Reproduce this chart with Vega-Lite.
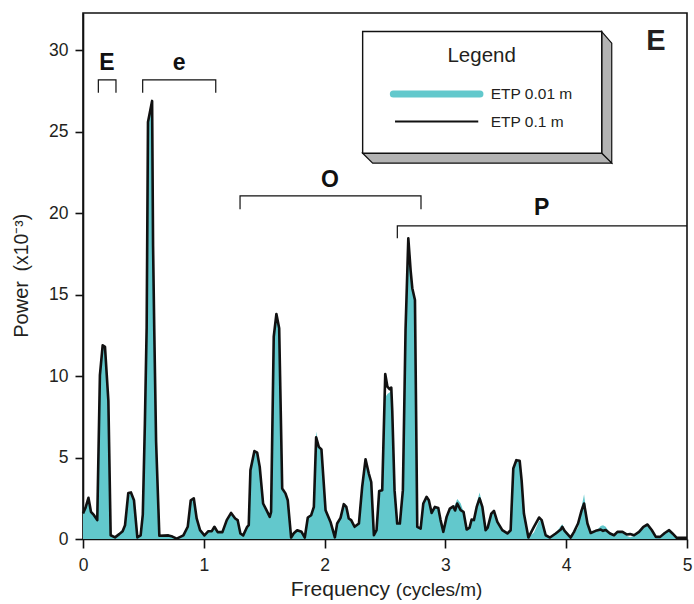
{
  "$schema": "https://vega.github.io/schema/vega-lite/v6.json",
  "autosize": "none",
  "width": 604,
  "height": 526,
  "padding": {"left": 83, "top": 13, "right": 7, "bottom": 65},
  "background": "white",
  "config": {
    "font": "Liberation Sans",
    "view": {"stroke": "#111111", "strokeWidth": 1.6},
    "axis": {
      "domainColor": "#111111", "domainWidth": 1.6,
      "tickColor": "#111111", "tickWidth": 1.6, "tickSize": 8,
      "labelFont": "Liberation Sans", "labelFontSize": 17.5, "labelColor": "#231f20",
      "labelPadding": 7, "grid": false, "title": null, "labelFlush": false, "format": "d"
    }
  },
  "datasets": {
    "spec": [
      {"f":0.0,"p1":1.57,"p01":1.57},{"f":0.02,"p1":1.9,"p01":1.9},{"f":0.045,"p1":2.53,"p01":2.53},{"f":0.066,"p1":1.67,"p01":1.67},
      {"f":0.091,"p1":1.46,"p01":1.46},{"f":0.118,"p1":1.16,"p01":1.16},{"f":0.14,"p1":10.07,"p01":10.07},{"f":0.163,"p1":11.9,"p01":11.9},
      {"f":0.182,"p1":11.8,"p01":11.8},{"f":0.21,"p1":8.5,"p01":8.5},{"f":0.229,"p1":0.23,"p01":0.23},{"f":0.265,"p1":0.1,"p01":0.1},
      {"f":0.3,"p1":0.3,"p01":0.3},{"f":0.328,"p1":0.48,"p01":0.48},{"f":0.348,"p1":0.85,"p01":0.85},{"f":0.375,"p1":2.83,"p01":2.83},
      {"f":0.397,"p1":2.86,"p01":2.86},{"f":0.422,"p1":2.38,"p01":2.38},{"f":0.45,"p1":0.1,"p01":0.1},{"f":0.477,"p1":0.22,"p01":0.22},
      {"f":0.495,"p1":1.5,"p01":1.5},{"f":0.512,"p1":7.0,"p01":7.0},{"f":0.527,"p1":13.0,"p01":13.0},{"f":0.538,"p1":25.6,"p01":25.6},
      {"f":0.572,"p1":26.9,"p01":26.9},{"f":0.58,"p1":18.0,"p01":18.0},{"f":0.59,"p1":12.8,"p01":12.8},{"f":0.605,"p1":6.0,"p01":6.0},
      {"f":0.632,"p1":0.2,"p01":0.2},{"f":0.707,"p1":0.22,"p01":0.22},{"f":0.74,"p1":0.15,"p01":0.15},{"f":0.776,"p1":0.02,"p01":0.02},
      {"f":0.831,"p1":0.22,"p01":0.22},{"f":0.867,"p1":0.75,"p01":0.75},{"f":0.892,"p1":2.38,"p01":2.38},{"f":0.917,"p1":2.5,"p01":2.5},
      {"f":0.941,"p1":1.26,"p01":1.26},{"f":0.969,"p1":0.54,"p01":0.54},{"f":1.005,"p1":0.22,"p01":0.22},{"f":1.038,"p1":0.48,"p01":0.48},
      {"f":1.066,"p1":0.48,"p01":0.48},{"f":1.088,"p1":0.75,"p01":0.75},{"f":1.115,"p1":0.42,"p01":0.42},{"f":1.154,"p1":0.42,"p01":0.42},
      {"f":1.19,"p1":1.16,"p01":1.16},{"f":1.226,"p1":1.6,"p01":1.6},{"f":1.26,"p1":1.26,"p01":1.26},{"f":1.28,"p1":1.16,"p01":1.16},
      {"f":1.303,"p1":0.34,"p01":0.34},{"f":1.326,"p1":0.22,"p01":0.22},{"f":1.359,"p1":0.75,"p01":0.75},{"f":1.372,"p1":0.85,"p01":0.85},
      {"f":1.386,"p1":4.23,"p01":4.23},{"f":1.419,"p1":5.4,"p01":5.4},{"f":1.442,"p1":5.3,"p01":5.3},{"f":1.463,"p1":4.43,"p01":4.43},
      {"f":1.491,"p1":2.18,"p01":2.18},{"f":1.519,"p1":1.77,"p01":1.77},{"f":1.546,"p1":1.36,"p01":1.36},{"f":1.557,"p1":1.66,"p01":1.66},
      {"f":1.579,"p1":12.42,"p01":12.42},{"f":1.601,"p1":13.82,"p01":13.82},{"f":1.624,"p1":12.94,"p01":12.94},{"f":1.649,"p1":3.1,"p01":3.1},
      {"f":1.676,"p1":2.8,"p01":2.8},{"f":1.695,"p1":2.38,"p01":2.38},{"f":1.723,"p1":0.09,"p01":0.09},{"f":1.745,"p1":0.35,"p01":0.35},
      {"f":1.773,"p1":0.54,"p01":0.54},{"f":1.809,"p1":0.44,"p01":0.44},{"f":1.836,"p1":0.09,"p01":0.09},{"f":1.861,"p1":1.32,"p01":1.32},
      {"f":1.889,"p1":1.46,"p01":1.46},{"f":1.911,"p1":1.97,"p01":1.97},{"f":1.93,"p1":6.24,"p01":6.6},{"f":1.952,"p1":5.66,"p01":5.66},
      {"f":1.974,"p1":5.5,"p01":5.5},{"f":2.008,"p1":1.77,"p01":1.77},{"f":2.049,"p1":1.05,"p01":1.05},{"f":2.085,"p1":0.1,"p01":0.1},
      {"f":2.104,"p1":0.95,"p01":0.95},{"f":2.132,"p1":1.3,"p01":1.3},{"f":2.159,"p1":2.14,"p01":2.14},{"f":2.18,"p1":1.97,"p01":1.97},
      {"f":2.2,"p1":1.26,"p01":1.26},{"f":2.22,"p1":1.16,"p01":1.16},{"f":2.248,"p1":0.75,"p01":0.75},{"f":2.284,"p1":0.95,"p01":0.95},
      {"f":2.311,"p1":3.2,"p01":3.2},{"f":2.339,"p1":4.9,"p01":4.9},{"f":2.366,"p1":4.02,"p01":4.02},{"f":2.386,"p1":3.5,"p01":3.5},
      {"f":2.408,"p1":0.23,"p01":0.23},{"f":2.43,"p1":0.54,"p01":0.54},{"f":2.452,"p1":2.95,"p01":2.95},{"f":2.477,"p1":3.0,"p01":3.0},
      {"f":2.502,"p1":10.13,"p01":8.7},{"f":2.52,"p1":9.35,"p01":8.9},{"f":2.538,"p1":9.2,"p01":9.0},{"f":2.552,"p1":9.3,"p01":9.1},
      {"f":2.56,"p1":7.9,"p01":7.9},{"f":2.579,"p1":3.0,"p01":3.0},{"f":2.601,"p1":0.95,"p01":0.95},{"f":2.623,"p1":0.95,"p01":0.95},
      {"f":2.648,"p1":3.0,"p01":3.0},{"f":2.67,"p1":12.83,"p01":12.83},{"f":2.693,"p1":18.47,"p01":18.3},{"f":2.712,"p1":16.5,"p01":16.8},
      {"f":2.726,"p1":15.4,"p01":15.4},{"f":2.748,"p1":14.68,"p01":14.68},{"f":2.767,"p1":0.75,"p01":0.75},{"f":2.795,"p1":0.64,"p01":0.64},
      {"f":2.817,"p1":2.18,"p01":2.18},{"f":2.844,"p1":2.59,"p01":2.59},{"f":2.863,"p1":2.38,"p01":2.38},{"f":2.886,"p1":1.6,"p01":1.6},
      {"f":2.913,"p1":1.97,"p01":1.97},{"f":2.941,"p1":1.9,"p01":1.9},{"f":2.96,"p1":1.16,"p01":1.16},{"f":2.983,"p1":0.44,"p01":0.44},
      {"f":3.01,"p1":1.36,"p01":1.36},{"f":3.037,"p1":1.87,"p01":1.87},{"f":3.065,"p1":2.0,"p01":2.0},{"f":3.08,"p1":1.75,"p01":2.1},
      {"f":3.098,"p1":2.18,"p01":2.45},{"f":3.126,"p1":1.77,"p01":2.2},{"f":3.15,"p1":1.67,"p01":1.67},{"f":3.176,"p1":0.58,"p01":0.58},
      {"f":3.2,"p1":0.7,"p01":0.7},{"f":3.217,"p1":1.2,"p01":1.2},{"f":3.236,"p1":1.16,"p01":1.16},{"f":3.259,"p1":1.97,"p01":2.2},
      {"f":3.283,"p1":2.49,"p01":2.85},{"f":3.306,"p1":1.97,"p01":2.1},{"f":3.333,"p1":0.54,"p01":0.54},{"f":3.35,"p1":0.7,"p01":0.7},
      {"f":3.38,"p1":1.56,"p01":1.56},{"f":3.402,"p1":1.73,"p01":1.73},{"f":3.43,"p1":1.05,"p01":1.05},{"f":3.471,"p1":0.54,"p01":0.54},
      {"f":3.513,"p1":0.34,"p01":0.34},{"f":3.54,"p1":0.54,"p01":0.54},{"f":3.562,"p1":4.33,"p01":4.2},{"f":3.587,"p1":4.84,"p01":4.84},
      {"f":3.615,"p1":4.8,"p01":4.8},{"f":3.631,"p1":3.6,"p01":3.6},{"f":3.65,"p1":1.56,"p01":1.56},{"f":3.687,"p1":0.09,"p01":0.09},
      {"f":3.733,"p1":0.75,"p01":0.4},{"f":3.775,"p1":1.32,"p01":1.1},{"f":3.797,"p1":1.16,"p01":1.16},{"f":3.83,"p1":0.23,"p01":0.23},
      {"f":3.866,"p1":0.09,"p01":0.09},{"f":3.913,"p1":0.34,"p01":0.34},{"f":3.955,"p1":0.58,"p01":0.8},{"f":3.968,"p1":0.75,"p01":0.9},
      {"f":3.987,"p1":0.5,"p01":0.6},{"f":4.037,"p1":0.09,"p01":0.09},{"f":4.065,"p1":0.44,"p01":0.3},{"f":4.098,"p1":0.95,"p01":0.7},
      {"f":4.128,"p1":1.77,"p01":2.0},{"f":4.148,"p1":2.18,"p01":2.75},{"f":4.176,"p1":0.95,"p01":1.1},{"f":4.203,"p1":0.37,"p01":0.37},
      {"f":4.244,"p1":0.5,"p01":0.45},{"f":4.286,"p1":0.58,"p01":0.8},{"f":4.305,"p1":0.5,"p01":0.85},{"f":4.327,"p1":0.55,"p01":0.75},
      {"f":4.363,"p1":0.34,"p01":0.34},{"f":4.396,"p1":0.23,"p01":0.23},{"f":4.424,"p1":0.44,"p01":0.44},{"f":4.466,"p1":0.44,"p01":0.4},
      {"f":4.5,"p1":0.28,"p01":0.2},{"f":4.529,"p1":0.3,"p01":0.1},{"f":4.562,"p1":0.23,"p01":0.2},{"f":4.603,"p1":0.44,"p01":0.44},
      {"f":4.639,"p1":0.75,"p01":0.75},{"f":4.673,"p1":0.89,"p01":0.95},{"f":4.708,"p1":0.55,"p01":0.55},{"f":4.742,"p1":0.13,"p01":0.13},
      {"f":4.778,"p1":0.13,"p01":0.13},{"f":4.816,"p1":0.37,"p01":0.37},{"f":4.852,"p1":0.54,"p01":0.6},{"f":4.88,"p1":0.34,"p01":0.34},
      {"f":4.915,"p1":0.07,"p01":0.07},{"f":5.0,"p1":0.07,"p01":0.07}
    ],
    "brackets": [
      {"b":"E","o":1,"f":0.127,"p":27.41},{"b":"E","o":2,"f":0.127,"p":28.19},{"b":"E","o":3,"f":0.273,"p":28.19},{"b":"E","o":4,"f":0.273,"p":27.41},
      {"b":"e","o":1,"f":0.494,"p":27.41},{"b":"e","o":2,"f":0.494,"p":28.19},{"b":"e","o":3,"f":1.099,"p":28.19},{"b":"e","o":4,"f":1.099,"p":27.41},
      {"b":"O","o":1,"f":1.3,"p":20.25},{"b":"O","o":2,"f":1.3,"p":21.07},{"b":"O","o":3,"f":2.798,"p":21.07},{"b":"O","o":4,"f":2.798,"p":20.25},
      {"b":"P","o":1,"f":2.602,"p":18.47},{"b":"P","o":2,"f":2.602,"p":19.23},{"b":"P","o":3,"f":5.0,"p":19.23}
    ],
    "bracketLabels": [
      {"t":"E","f":0.199,"p":29.2},{"t":"e","f":0.795,"p":29.25},{"t":"O","f":2.045,"p":22.05},{"t":"P","f":3.797,"p":20.33}
    ]
  },
  "layer": [
    {
      "data": {"name": "spec"},
      "mark": {"type": "area", "color": "#62c8cc", "interpolate": "linear"},
      "encoding": {
        "x": {"field": "f", "type": "quantitative", "scale": {"domain": [0, 5], "nice": false, "zero": false},
              "axis": {"values": [0, 1, 2, 3, 4, 5], "title": null, "tickSize": 9, "labelPadding": 8}},
        "y": {"field": "p01", "type": "quantitative", "scale": {"domain": [0, 32.3], "nice": false, "zero": false},
              "axis": {"values": [0, 5, 10, 15, 20, 25, 30], "title": null}}
      }
    },
    {
      "data": {"name": "spec"},
      "mark": {"type": "line", "color": "#111111", "strokeWidth": 2.6, "strokeJoin": "round", "interpolate": "linear"},
      "encoding": {
        "x": {"field": "f", "type": "quantitative"},
        "y": {"field": "p1", "type": "quantitative"}
      }
    },
    {
      "data": {"name": "brackets"},
      "mark": {"type": "line", "color": "#111111", "strokeWidth": 1.2},
      "encoding": {
        "x": {"field": "f", "type": "quantitative"},
        "y": {"field": "p", "type": "quantitative"},
        "detail": {"field": "b"},
        "order": {"field": "o", "type": "quantitative"}
      }
    },
    {
      "data": {"name": "bracketLabels"},
      "mark": {"type": "text", "fontSize": 23, "fontWeight": "bold", "color": "#111111", "baseline": "middle", "align": "center"},
      "encoding": {
        "x": {"field": "f", "type": "quantitative"},
        "y": {"field": "p", "type": "quantitative"},
        "text": {"field": "t"}
      }
    },
    {
      "data": {"values": [{"f": 4.294, "p": 31.16, "p2": 23.69}, {"f": 4.377, "p": 30.45, "p2": 23.08}]},
      "mark": {"type": "area", "fill": "#b3b3b3", "stroke": "#111111", "strokeWidth": 1.2},
      "encoding": {
        "x": {"field": "f", "type": "quantitative"},
        "y": {"field": "p", "type": "quantitative"},
        "y2": {"field": "p2"}
      }
    },
    {
      "data": {"values": [{"p": 23.69, "f": 2.315, "f2": 4.294}, {"p": 23.08, "f": 2.398, "f2": 4.377}]},
      "mark": {"type": "area", "orient": "horizontal", "fill": "#b3b3b3", "stroke": "#111111", "strokeWidth": 1.2},
      "encoding": {
        "y": {"field": "p", "type": "quantitative"},
        "x": {"field": "f", "type": "quantitative"},
        "x2": {"field": "f2"}
      }
    },
    {
      "data": {"values": [{"f": 2.315, "f2": 4.294, "p": 31.16, "p2": 23.69}]},
      "mark": {"type": "rect", "fill": "white", "stroke": "#111111", "strokeWidth": 1.4},
      "encoding": {
        "x": {"field": "f", "type": "quantitative"},
        "x2": {"field": "f2"},
        "y": {"field": "p", "type": "quantitative"},
        "y2": {"field": "p2"}
      }
    },
    {
      "data": {"values": [{"s": "a", "f": 2.569, "p": 27.33}, {"s": "a", "f": 3.286, "p": 27.33}]},
      "mark": {"type": "line", "color": "#62c8cc", "strokeWidth": 7, "strokeCap": "round"},
      "encoding": {
        "x": {"field": "f", "type": "quantitative"},
        "y": {"field": "p", "type": "quantitative"}
      }
    },
    {
      "data": {"values": [{"s": "b", "f": 2.583, "p": 25.63}, {"s": "b", "f": 3.272, "p": 25.63}]},
      "mark": {"type": "line", "color": "#111111", "strokeWidth": 2},
      "encoding": {
        "x": {"field": "f", "type": "quantitative"},
        "y": {"field": "p", "type": "quantitative"}
      }
    },
    {
      "data": {"values": [{"t": "ETP 0.01 m", "f": 3.375, "p": 27.33}, {"t": "ETP 0.1 m", "f": 3.375, "p": 25.63}]},
      "mark": {"type": "text", "fontSize": 15.5, "color": "#231f20", "align": "left", "baseline": "middle"},
      "encoding": {
        "x": {"field": "f", "type": "quantitative"},
        "y": {"field": "p", "type": "quantitative"},
        "text": {"field": "t"}
      }
    },
    {
      "data": {"values": [{"t": "Legend", "f": 3.30, "p": 29.67}]},
      "mark": {"type": "text", "fontSize": 20.5, "color": "#231f20", "align": "center", "baseline": "middle"},
      "encoding": {
        "x": {"field": "f", "type": "quantitative"},
        "y": {"field": "p", "type": "quantitative"},
        "text": {"field": "t"}
      }
    },
    {
      "data": {"values": [{"t": "E", "f": 4.743, "p": 30.55}]},
      "mark": {"type": "text", "fontSize": 29, "fontWeight": "bold", "color": "#231f20", "align": "center", "baseline": "middle"},
      "encoding": {
        "x": {"field": "f", "type": "quantitative"},
        "y": {"field": "p", "type": "quantitative"},
        "text": {"field": "t"}
      }
    },
    {
      "data": {"values": [{"t": "Frequency", "f": 2.541, "p": -3.5}]},
      "mark": {"type": "text", "fontSize": 21, "color": "#231f20", "align": "right", "baseline": "alphabetic"},
      "encoding": {
        "x": {"field": "f", "type": "quantitative"},
        "y": {"field": "p", "type": "quantitative"},
        "text": {"field": "t"}
      }
    },
    {
      "data": {"values": [{"t": "(cycles/m)", "f": 2.59, "p": -3.5}]},
      "mark": {"type": "text", "fontSize": 19, "color": "#231f20", "align": "left", "baseline": "alphabetic"},
      "encoding": {
        "x": {"field": "f", "type": "quantitative"},
        "y": {"field": "p", "type": "quantitative"},
        "text": {"field": "t"}
      }
    },
    {
      "data": {"values": [{"t": "Power", "f": -0.505, "p": 14.1}]},
      "mark": {"type": "text", "fontSize": 20, "color": "#231f20", "align": "center", "baseline": "middle", "angle": 270},
      "encoding": {
        "x": {"field": "f", "type": "quantitative"},
        "y": {"field": "p", "type": "quantitative"},
        "text": {"field": "t"}
      }
    },
    {
      "data": {"values": [{"t": "(x10⁻³)", "f": -0.505, "p": 18.2}]},
      "mark": {"type": "text", "fontSize": 19.5, "color": "#231f20", "align": "center", "baseline": "middle", "angle": 270},
      "encoding": {
        "x": {"field": "f", "type": "quantitative"},
        "y": {"field": "p", "type": "quantitative"},
        "text": {"field": "t"}
      }
    }
  ]
}
